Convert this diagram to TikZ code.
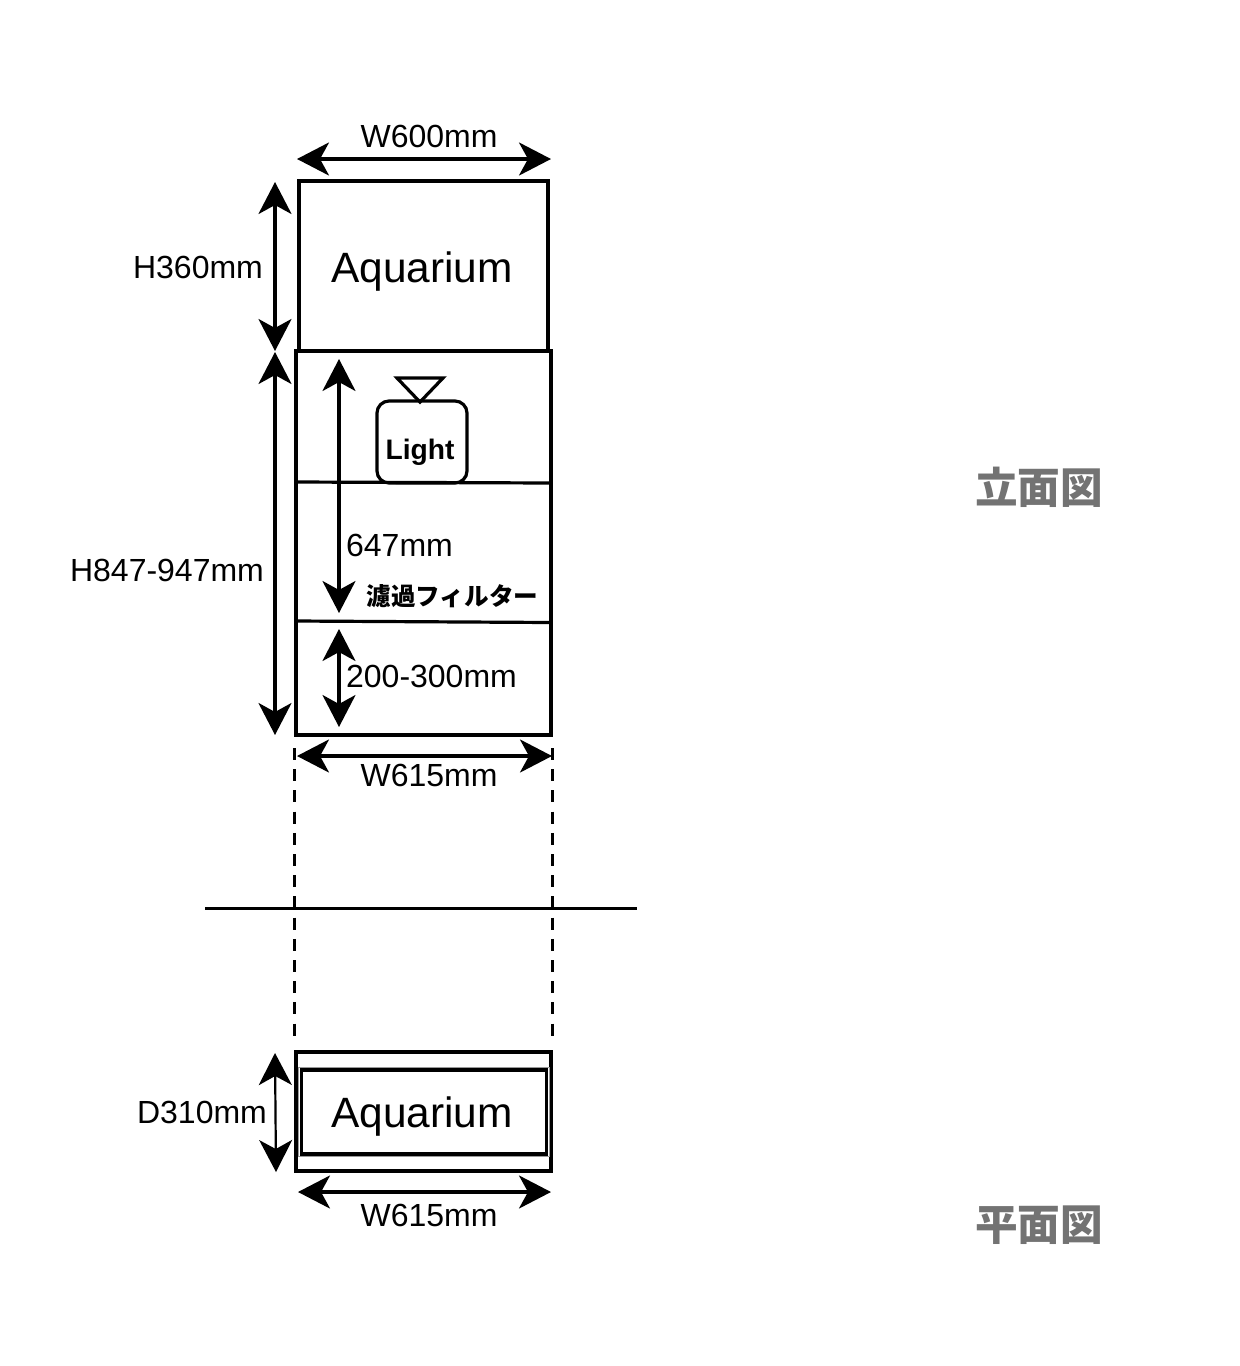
\documentclass[tikz,border=0pt]{standalone}
\usepackage{fontspec}
\setmainfont{Liberation Sans}
\newfontfamily\jpfont{Noto Sans CJK JP}
\usetikzlibrary{arrows.meta}
\tikzset{
 wall/.style={draw, line width=1.6pt, inner sep=0, outer sep=0},
 dim/.style={line width=1.6pt, {Stealth[length=16pt,width=16.5pt,inset=4.5pt]}-{Stealth[length=16pt,width=16.5pt,inset=4.5pt]}},
 dimtext/.style={inner sep=0, font=\fontsize{16}{18}\selectfont},
 tanktext/.style={inner sep=0, font=\fontsize{21.2}{24}\selectfont},
 viewtext/.style={inner sep=0, text=black!55, font=\jpfont\bfseries\fontsize{21.3}{24}\selectfont},
}
\begin{document}
\begin{tikzpicture}[x=.5pt, y=-.5pt]
\useasboundingbox (0,0) rectangle (1240,1366);
% elevation
\node[wall, minimum width=124.5pt, minimum height=85pt] (tank) at (423.5,266) {};
\node[wall, minimum width=127.5pt, minimum height=192pt] (cabinet) at (423.5,543) {};
\node[wall, rounded corners=6pt, minimum width=45pt, minimum height=41pt] (lightbox) at (422,442) {};
\node[tanktext] (tanklabel) at (422,271.5) {Aquarium};
\node[inner sep=0, font=\bfseries\fontsize{14.1}{16}\selectfont] (lightlabel) at (420,452.5) {Light};
\node[inner sep=0, font=\jpfont\bfseries\fontsize{12.3}{14}\selectfont] (filterlabel) at (452.5,596) {濾過フィルター};
\draw[line width=1.6pt] (397,378) -- (443,378) -- (420,402) -- cycle;
\coordinate (shelfa) at (296,482); \coordinate (shelfb) at (551,483);
\coordinate (shelfc) at (296,621); \coordinate (shelfd) at (551,622.5);
\draw[line width=1.6pt] (shelfa) -- (shelfb);
\draw[line width=1.6pt] (shelfc) -- (shelfd);
% plan
\node[wall, minimum width=127.5pt, minimum height=59.5pt] (plan) at (423.5,1111.5) {};
\node[draw, black!40, line width=.4pt, inner sep=0, minimum width=125.5pt, minimum height=44.5pt] (planedge) at (424,1112) {};
\node[wall, minimum width=122.5pt, minimum height=42pt] (plantank) at (424,1112) {};
\node[tanktext] (planlabel) at (422,1116.5) {Aquarium};
% dimension arrows
\foreach \name/\x/\y in {wa/297/159, wb/551/159, ha/275/182, hb/275/351, ca/275/352, cb/275/735,
 fa/339/359, fb/339/613, ba/339/629, bb/339/727, ua/297/756, ub/552/756,
 da/275/1053, db/276/1172, pa/298/1192, pb/551/1192}
 \coordinate (\name) at (\x,\y);
\foreach \a/\b in {wa/wb, ha/hb, ca/cb, fa/fb, ba/bb, ua/ub, pa/pb}
 \draw[dim] (\a) -- (\b);
\draw[dim, line width=1.1pt] (da) -- (db);
\foreach \name/\x/\y/\txt in {wtop/429/136.5/W600, htop/198/267.5/H360, hcab/167/570.5/H847-947, hfilter/399.5/545.5/647,
 hbase/431.5/676.5/200-300, wcab/429/775.5/W615, dplan/202/1112.5/D310, wplan/429/1215.5/W615}
 \node[dimtext] (\name) at (\x,\y) {\txt mm};
% projection lines
\foreach \name/\x in {left/294, right/552} {
 \coordinate (\name a) at (\x,748);
 \coordinate (\name b) at (\x,1036);
 \draw[line width=1.5pt, dash pattern=on 6pt off 4.6pt] (\name a) -- (\name b);
}
\coordinate (sepa) at (205,908); \coordinate (sepb) at (637,908);
\draw[line width=1.5pt] (sepa) -- (sepb);
\node[viewtext] (front) at (1039,487) {立面図};
\node[viewtext] (top) at (1039,1225) {平面図};
\end{tikzpicture}
\end{document}
